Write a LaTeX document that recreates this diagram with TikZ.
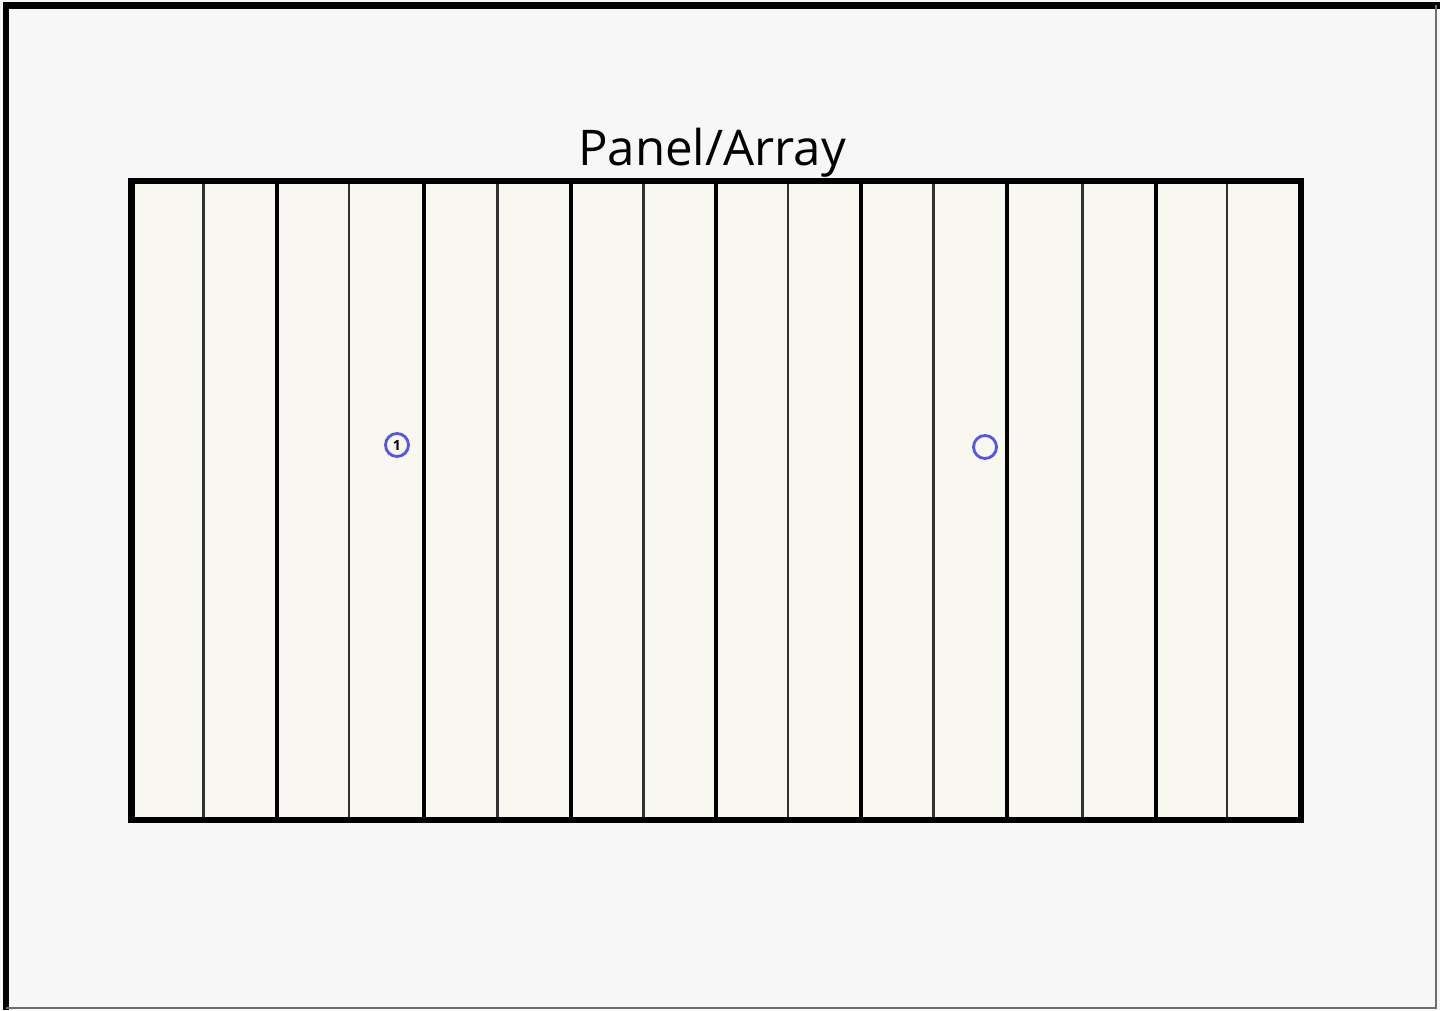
\documentclass[tikz,border=0pt]{standalone}
\usepackage{fontspec}
\setmainfont{Open Sans}
\usetikzlibrary{positioning, calc}
\definecolor{pagebg}{RGB}{247,247,247}
\definecolor{panelfill}{RGB}{248,248,240}
\definecolor{markblue}{RGB}{85,85,235}
\definecolor{edgegray}{RGB}{110,110,110}
\definecolor{seamgray}{RGB}{50,50,50}
\tikzset{
    panelbox/.style={draw=black, line width=1.8pt, fill=panelfill, inner sep=0pt,
        minimum width=116.95mm, minimum height=63.9mm},
    marker/.style={circle, draw=markblue, line width=0.8pt, minimum size=2.3mm,
        inner sep=0pt, font=\fontsize{4}{4}\selectfont\bfseries},
}

\begin{document}
\begin{tikzpicture}[x=0.1mm, y=-0.1mm]
    \useasboundingbox (0,0) rectangle (1440,1010);
    % Page background and frame
    \fill[pagebg] (0,0) rectangle (1440,1010);
    \draw[black, line width=1.9pt] (6,1010) -- (6,5.5) -- (1440,5.5);
    \draw[edgegray, line width=0.6pt] (1436,5) -- (1436,1008) -- (6,1008);

    % Panel
    \node[panelbox] (panel) at (716.25,500.5) {};
    \node[font=\fontsize{14}{16}\selectfont, anchor=base] (title) at (712,166) {Panel/Array};

    % Module seams (x / colour / width)
    \foreach \x/\c/\w in {203.5/seamgray/0.7, 276.7/black/1.15, 349/seamgray/0.7, 424/black/1.15,
        497.7/seamgray/0.7, 570.7/black/1.15, 643.3/seamgray/0.7, 716/black/1.15,
        788/seamgray/0.7, 861/black/1.15, 933.3/seamgray/0.7, 1007.3/black/1.15,
        1082.7/seamgray/0.7, 1155.7/black/1.15, 1227/seamgray/0.7} {
        \draw[\c, line width=\w pt] (\x,0 |- panel.north) -- (\x,0 |- panel.south);
    }
    \node[panelbox, fill=none] (panelrim) at (panel.center) {};

    % Markers
    \node[marker] (m1) at (397,445) {1};
    \node[marker] (m2) at (985,447) {};
\end{tikzpicture}
\end{document}
